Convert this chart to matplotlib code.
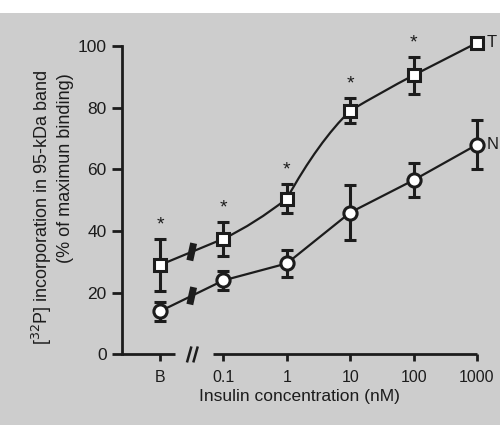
import matplotlib.pyplot as plt
import numpy as np
from matplotlib.path import Path
from matplotlib.patches import PathPatch, Rectangle

plt.rcParams['font.family'] = ['Liberation Sans', 'DejaVu Sans']

# concentrations (B = basal, drawn one decade left of 0.1 after an axis break)
conc_labels = ["B", "0.1", "1", "10", "100", "1000"]
x_pos = [-2, -1, 0, 1, 2, 3]

# T series (squares)
t_mean = [29, 37.5, 50.5, 79, 90.5, 101]
t_err = [8.5, 5.5, 4.7, 4, 6, 0]
t_signif = [True, True, True, True, True, True]

# N series (circles)
n_mean = [14, 24, 29.5, 46, 56.5, 68]
n_err = [3, 3, 4.3, 9, 5.5, 8]

ink = "#1c1c1c"
bg = "#cdcdcd"

fig = plt.figure(figsize=(5, 4.25), dpi=100, facecolor=bg)
fig.patches.append(Rectangle((0, 0.97), 1, 0.03, transform=fig.transFigure,
                             facecolor="white", edgecolor="none", zorder=0))
ax = fig.add_axes([0.244, 0.166, 0.71, 0.726])
ax.set_facecolor("none")
ax.set_xlim(-2.6, 3.0)
ax.set_ylim(0, 100)


def curve_path(xs, ys, bend):
    # cubic segments; bend[i] tilts the tangents of segment i
    # (0 = straight chord, >0 = bulges upward / hand-drawn saturation look)
    verts = [(xs[0], ys[0])]
    codes = [Path.MOVETO]
    for i in range(len(xs) - 1):
        x1, y1, x2, y2 = xs[i], ys[i], xs[i + 1], ys[i + 1]
        dx, dy = x2 - x1, y2 - y1
        k = bend[i]
        c1 = (x1 + dx / 3, y1 + dy / 3 + k * abs(dy))
        c2 = (x2 - dx / 3, y2 - dy / 3 + k * abs(dy))
        verts += [c1, c2, (x2, y2)]
        codes += [Path.CURVE4] * 3
    return Path(verts, codes)


# connecting lines
ax.add_patch(PathPatch(curve_path(x_pos, t_mean, [0, -0.08, 0.1, 0.02, 0]),
                       facecolor="none", edgecolor=ink, lw=1.6, zorder=2,
                       clip_on=False))
ax.plot(x_pos, n_mean, color=ink, lw=1.6, zorder=2)

# break marks on the data lines between B and 0.1
for means in (t_mean, n_mean):
    xm = (x_pos[0] + x_pos[1]) / 2
    ym = (means[0] + means[1]) / 2
    ax.plot([xm - 0.03, xm + 0.03], [ym - 2.8, ym + 2.8], color=ink,
            lw=5, solid_capstyle="butt", zorder=3)

ax.errorbar(x_pos, t_mean, yerr=t_err, fmt="s", ms=8.5, mfc="white", mec=ink,
            mew=2.2, ecolor=ink, elinewidth=2.2, capsize=4.5, capthick=2.2,
            zorder=4, clip_on=False)
ax.errorbar(x_pos, n_mean, yerr=n_err, fmt="o", ms=9.5, mfc="white", mec=ink,
            mew=2.2, ecolor=ink, elinewidth=2.2, capsize=4.5, capthick=2.2,
            zorder=4, clip_on=False)

# significance stars
for x, m, e, s in zip(x_pos, t_mean, t_err, t_signif):
    if s:
        top = m + (e if e > 0 else 2)
        ax.annotate("*", (x, top), xytext=(0, 4), textcoords="offset points",
                    ha="center", va="bottom", fontsize=14, color=ink)

ax.text(3.15, t_mean[-1], "T", ha="left", va="center",
        fontsize=12, color=ink, clip_on=False)
ax.text(3.15, n_mean[-1], "N", ha="left", va="center",
        fontsize=12, color=ink, clip_on=False)

# axes
for side in ("top", "right", "bottom"):
    ax.spines[side].set_visible(False)
ax.spines["left"].set_linewidth(2)
ax.spines["left"].set_color(ink)
ax.set_yticks([0, 20, 40, 60, 80, 100])
ax.tick_params(axis="y", direction="out", length=7, width=2, colors=ink,
               labelsize=12.5, pad=4)
ax.set_xticks(x_pos)
ax.set_xticklabels(conc_labels)
ax.tick_params(axis="x", direction="out", length=5, width=2, colors=ink,
               labelsize=11.5, pad=6)

# broken x axis line
ax.plot([-2.6, -1.76], [0, 0], color=ink, lw=2, clip_on=False,
        solid_capstyle="butt")
ax.plot([-1.16, 3.0], [0, 0], color=ink, lw=2, clip_on=False,
        solid_capstyle="butt")
for dx in (-1.54, -1.44):
    ax.plot([dx - 0.03, dx + 0.03], [-2.2, 2.2], color=ink, lw=1.8,
            clip_on=False)

ax.set_xlabel("Insulin concentration (nM)", fontsize=12.5, color=ink, labelpad=3)

fig.text(0.084, 0.838, "[$^{32}$P] incorporation in 95-kDa band", rotation=90,
         ha="center", va="top", fontsize=13, color=ink)
fig.text(0.132, 0.828, "(% of maximun binding)", rotation=90,
         ha="center", va="top", fontsize=13, color=ink)

fig.savefig("out.png", dpi=100, facecolor=bg)
